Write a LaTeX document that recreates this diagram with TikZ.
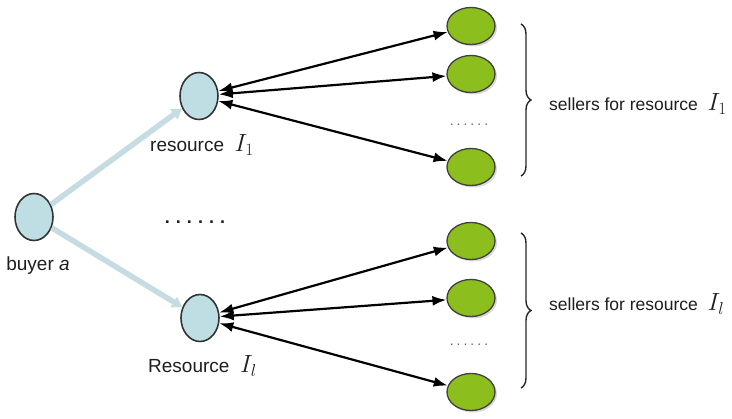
\documentclass[tikz,border=0pt]{standalone}
\usepackage{fontspec}
\setmainfont{Liberation Sans}
\usetikzlibrary{shapes.geometric,arrows.meta,decorations.pathreplacing,shadows}
\definecolor{bluefill}{RGB}{190,222,228}
\definecolor{greenfill}{RGB}{140,190,30}
\definecolor{edgeblue}{RGB}{196,220,226}
\definecolor{txt}{RGB}{30,30,30}
\newcommand{\bigI}[1]{{\fontsize{24}{24}\selectfont$I_{#1}$}}
\newcommand{\rowdots}[1]{.\kern#1.\kern#1.\kern#1.\kern#1.\kern#1.}
\begin{document}
\begin{tikzpicture}[x=1pt,y=-1pt,
 res/.style={ellipse,draw=black!80,line width=1.6pt,fill=bluefill,minimum width=38pt,minimum height=47pt,inner sep=0pt},
 sel/.style={ellipse,draw=black!75,line width=1.3pt,fill=greenfill,minimum width=48pt,minimum height=37pt,inner sep=0pt,drop shadow={opacity=0.3,shadow xshift=2pt,shadow yshift=-2pt}},
 lbl/.style={font=\fontsize{19}{22}\selectfont,text=txt,inner sep=0pt},
 slbl/.style={font=\fontsize{17.5}{20}\selectfont,text=txt,inner sep=0pt},
 dots/.style={font=\fontsize{18}{18}\selectfont\bfseries,text=txt,inner sep=0pt},
 sdots/.style={font=\fontsize{14}{14}\selectfont,text=black!60,inner sep=0pt},
 link/.style={{Latex[length=14pt,width=10pt]}-{Latex[length=14pt,width=10pt]},line width=2.2pt},
 feed/.style={-{Triangle[length=10pt,width=12pt]},line width=5.5pt,draw=edgeblue},
 brc/.style={decorate,decoration={brace,amplitude=10pt},line width=1.4pt,draw=black!85}]
\useasboundingbox (0,0) rectangle (732,419);
% buyer and resources
\node[res] (b) at (34,217) {};
\node[lbl] (bl) at (38,266) {buyer \textit{a}};
\node[res] (r1) at (199,96) {};
\node[lbl,anchor=west] (r1l) at (150,145) {resource\ \ \bigI{1}};
\node[res] (r2) at (200,318) {};
\node[lbl,anchor=west] (r2l) at (148,366) {Resource\ \ \bigI{l}};
\node[dots] (d0) at (195,222) {\rowdots{6pt}};
% sellers group 1
\node[sel] (s11) at (471,26) {};
\node[sel] (s12) at (471,74) {};
\node[sel] (s13) at (471,167) {};
\node[sdots] (d1) at (469,125) {\rowdots{3pt}};
% sellers group 2
\node[sel] (s21) at (471,241) {};
\node[sel] (s22) at (471,298) {};
\node[sel] (s23) at (471,392) {};
\node[sdots] (d2) at (469,345) {\rowdots{3pt}};
% connectors
\draw[feed] (b) -- (r1);
\draw[feed] (b) -- (r2);
\foreach \s in {s11,s12,s13} \draw[link] (r1) -- (\s);
\foreach \s in {s21,s22,s23} \draw[link] (r2) -- (\s);
% braces
\coordinate (bt1) at (521,24);
\coordinate (bb1) at (521,176);
\coordinate (bt2) at (521,233);
\coordinate (bb2) at (521,388);
\draw[brc] (bt1) -- (bb1);
\draw[brc] (bt2) -- (bb2);
\node[slbl,anchor=west] (t1) at (549,104) {sellers for resource\ \ \bigI{1}};
\node[slbl,anchor=west] (t2) at (549,304) {sellers for resource\ \ \bigI{l}};
\end{tikzpicture}
\end{document}
